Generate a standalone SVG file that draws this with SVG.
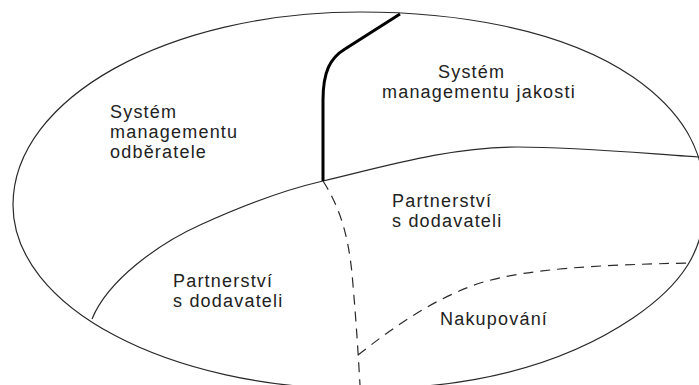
<svg xmlns="http://www.w3.org/2000/svg" width="699" height="385" viewBox="0 0 699 385">
  <style>
    .edge { fill: none; stroke: #2a2a2a; stroke-width: 1.2; }
    .bold { fill: none; stroke: #000; stroke-width: 3; stroke-linejoin: round; }
    .dash { fill: none; stroke: #2a2a2a; stroke-width: 1.2; stroke-dasharray: 10 7; }
    .lbl { font-family: "Liberation Sans", Arial, sans-serif; font-size: 18px; letter-spacing: 1.2px; fill: #222; }
  </style>
  <rect width="699" height="385" fill="#fff"/>

  <!-- region boundaries -->
  <g id="boundaries">
    <!-- outer egg-shaped outline -->
    <path id="outline" class="edge" d="M360,12 C450,12 560,27 633,77 C682,111 705,150 705,200 C705,250 683,284 633,318 C550,374 450,389 360,389 C168,389 13,307 13,205 C13,98 168,12 360,12 Z"/>
    <!-- inner arc separating the customer/quality systems from supplier partnership -->
    <path id="inner-arc" class="edge" d="M92,319 C108,280 159,243.5 200,225 C236,208.5 284,190 323,181 C386,166 450,147 517,147 C580,147 650,154 698,157"/>
    <!-- heavy divider between customer and quality management -->
    <path id="divider" class="bold" d="M323,181 L323,100 C323,72 330,58 345,49 L400,14"/>
    <!-- dashed split of the supplier partnership -->
    <path id="split" class="dash" d="M323,181 C343,212 350,245 353,285 C356,320 358,350 360,385"/>
    <!-- dashed border of the purchasing area -->
    <path id="purchasing-edge" class="dash" d="M358,355 C390,330 430,300 480,283 C530,268 600,265 688,263"/>
  </g>

  <g id="customer-system">
    <text class="lbl" x="110" y="118">Systém</text>
    <text class="lbl" x="110" y="138">managementu</text>
    <text class="lbl" x="110" y="158">odběratele</text>
  </g>

  <g id="quality-system">
    <text class="lbl" x="438" y="78">Systém</text>
    <text class="lbl" x="382" y="98">managementu jakosti</text>
  </g>

  <g id="partnership-right">
    <text class="lbl" x="392" y="207">Partnerství</text>
    <text class="lbl" x="392" y="227">s dodavateli</text>
  </g>

  <g id="partnership-left">
    <text class="lbl" x="173" y="287">Partnerství</text>
    <text class="lbl" x="173" y="307">s dodavateli</text>
  </g>

  <g id="purchasing">
    <text class="lbl" x="440" y="325">Nakupování</text>
  </g>
</svg>
